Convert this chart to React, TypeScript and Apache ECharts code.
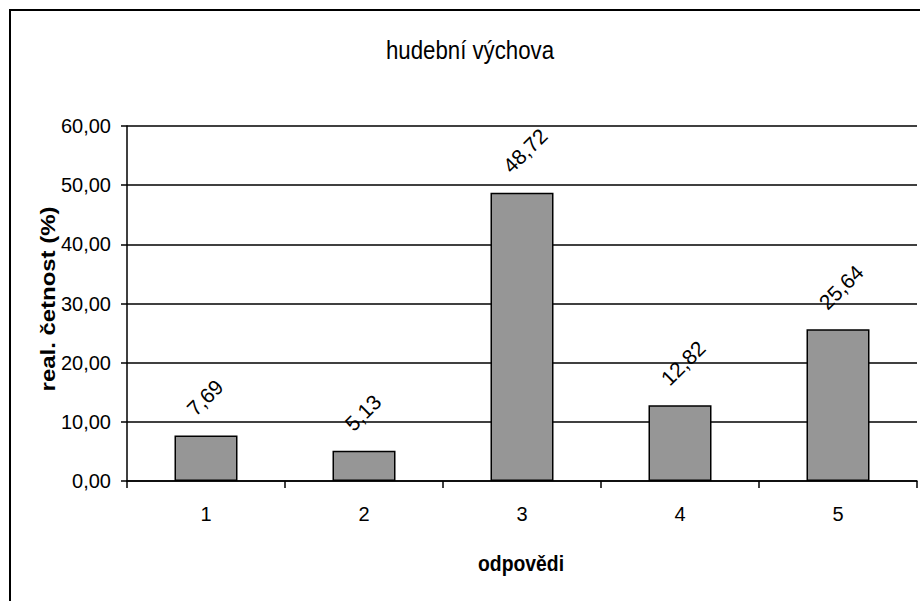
import React, { useEffect, useRef } from "react";
import * as echarts from "echarts";

const categories = ["1", "2", "3", "4", "5"];
const values = [7.69, 5.13, 48.72, 12.82, 25.64];
const chartTitle = "hudební výchova";
const xTitle = "odpovědi";
const yTitle = "real. četnost (%)";

const FONT = "'Liberation Sans', Arial, sans-serif";
const fmt = (v: number) => v.toFixed(2).replace(".", ",");

export default function App() {
  const ref = useRef<HTMLDivElement>(null);
  useEffect(() => {
    if (!ref.current) return;
    const chart = echarts.init(ref.current, undefined, { renderer: "svg" });
    const barWidth = 63;
    chart.setOption({
      animation: false,
      backgroundColor: "#ffffff",
      grid: { left: 127, right: 3, top: 126, bottom: 120, containLabel: false },
      graphic: [
        {
          type: "rect",
          shape: { x: 10, y: 10, width: 1000, height: 1000 },
          style: { fill: "none", stroke: "#000", lineWidth: 2 },
          silent: true,
        },
        {
          type: "text",
          x: 470,
          y: 51,
          scaleX: 0.89,
          style: {
            text: chartTitle,
            font: `25px ${FONT}`,
            fill: "#000",
            align: "center",
            verticalAlign: "middle",
          },
        },
        {
          type: "text",
          x: 521,
          y: 563,
          scaleX: 0.88,
          style: {
            text: xTitle,
            font: `bold 22px ${FONT}`,
            fill: "#000",
            align: "center",
            verticalAlign: "middle",
          },
        },
        {
          type: "text",
          x: 48,
          y: 299,
          rotation: Math.PI / 2,
          scaleX: 1.14,
          style: {
            text: yTitle,
            font: `bold 21px ${FONT}`,
            fill: "#000",
            align: "center",
            verticalAlign: "middle",
          },
        },
      ],
      xAxis: {
        type: "category",
        data: categories,
        boundaryGap: true,
        axisLine: { show: true, lineStyle: { color: "#000", width: 1.5 } },
        axisTick: { show: true, length: 7, inside: false, alignWithLabel: false, lineStyle: { color: "#000", width: 1.5 } },
        axisLabel: { margin: 23, fontSize: 20, fontFamily: FONT, color: "#000" },
        splitLine: { show: false },
      },
      yAxis: {
        type: "value",
        min: 0,
        max: 60,
        interval: 10,
        axisLine: { show: true, lineStyle: { color: "#000", width: 1.5 } },
        axisTick: { show: true, length: 6, inside: false, lineStyle: { color: "#000", width: 1.5 } },
        axisLabel: {
          margin: 16,
          fontSize: 20,
          fontFamily: FONT,
          color: "#000",
          formatter: (v: number) => fmt(v),
        },
        splitLine: { show: true, lineStyle: { color: "#000", width: 1.5 } },
      },
      series: [
        {
          type: "bar",
          data: values,
          barWidth,
          itemStyle: { color: "#969696", borderColor: "#000", borderWidth: 1.5 },
          label: {
            show: true,
            position: [barWidth / 2 - 15.5, -23.5],
            rotate: 45,
            align: "left",
            verticalAlign: "middle",
            fontSize: 21,
            fontFamily: FONT,
            color: "#000",
            formatter: (p: any) => fmt(p.value),
          },
        },
      ],
    });
    return () => chart.dispose();
  }, []);
  return (
    <div
      ref={ref}
      style={{ position: "fixed", left: 0, top: 0, width: 920, height: 601 }}
    />
  );
}
